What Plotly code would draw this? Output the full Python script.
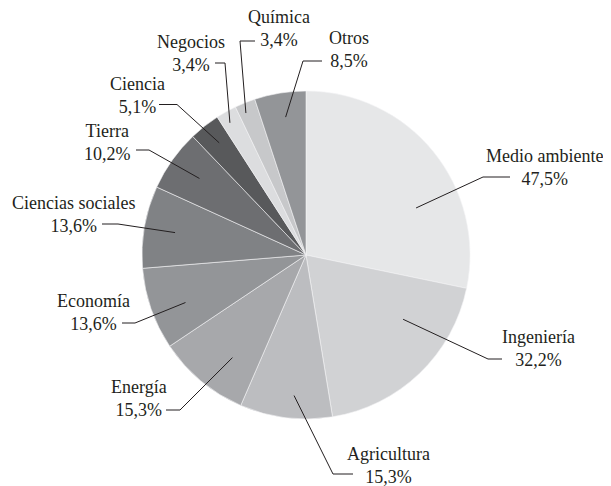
import math
import plotly.graph_objects as go

# ---- data ----
categories = ["Medio ambiente", "Ingeniería", "Agricultura", "Energía", "Economía",
              "Ciencias sociales", "Tierra", "Ciencia", "Negocios", "Química", "Otros"]
values = [47.5, 32.2, 15.3, 15.3, 13.6, 13.6, 10.2, 5.1, 3.4, 3.4, 8.5]

# ---- style ----
colors = ["#e6e7e8", "#d1d2d4", "#bcbdc0", "#a7a8ab", "#939598", "#808285",
          "#6d6e71", "#58595b", "#dcdddf", "#c7c8ca", "#939598"]
FONT = "'Liberation Serif', Tinos, 'Noto Serif', 'DejaVu Serif', FreeSerif, serif"
OFF = 8  # page body margin of the html page
W, H = 611 - OFF, 486 - OFF
CX, CY, R = 306, 255, 164  # pie centre / radius in window pixels (layout)

# label layout (window pixels): leader start radius fraction, angle tweak, elbow, line end, text centre
start_rfrac = [0.73, 0.71, 0.86, 0.77, 0.79, 0.81, 0.80, 0.865, 0.93, 0.94, 0.85]
angle_tweak = [16, -12.7, -2.2, -4.2, -2.3, -0.2, 0.3, 0.5, -0.8, -1.1, 0.7]
elbows = [(483, 177), (488, 359), (333, 474), (180, 410), (135, 323), (118, 224),
          (149, 150), (177, 104.5), (225, 63), (240, 41), (303, 61)]
line_ends = [(510, 177), (502, 359), (353, 474), (166, 410), (122, 323), (102, 224),
             (136, 150), (159, 104.5), (215, 63), (255, 41), (322, 61)]
text_pos = [(544, 167), (538, 348), (388, 465), (139, 398), (93, 312), (73, 214.5),
            (107, 142), (137, 95), (191, 53.5), (279, 29), (349, 50)]

def px(x):
    return (x - OFF) / W

def py(y):
    return 1 - (y - OFF) / H

fig = go.Figure(go.Pie(
    labels=categories,
    values=values,
    sort=False,
    direction="clockwise",
    rotation=0,
    textinfo="none",
    hoverinfo="label+value",
    marker=dict(colors=colors, line=dict(color="#f4f4f5", width=0.6)),
    domain=dict(x=[px(CX - R), px(CX + R)], y=[py(CY + R), py(CY - R)]),
    showlegend=False,
))

total = sum(values)
cum = 0.0
shapes = []
annotations = []
for i, (cat, v) in enumerate(zip(categories, values)):
    mid = (cum + v / 2) / total * 360 + angle_tweak[i]
    cum += v
    th = math.radians(mid)
    sx = CX + start_rfrac[i] * R * math.sin(th)
    sy = CY - start_rfrac[i] * R * math.cos(th)
    ex, ey = elbows[i]
    lx, ly = line_ends[i]
    path = f"M {px(sx)} {py(sy)} L {px(ex)} {py(ey)} L {px(lx)} {py(ly)}"
    shapes.append(dict(type="path", xref="paper", yref="paper", path=path,
                       line=dict(color="#231f20", width=1)))
    pct = f"{v:.1f}".replace(".", ",") + "%"
    tx, ty = text_pos[i]
    annotations.append(dict(x=px(tx), y=py(ty), xref="paper", yref="paper",
                            text=f"{cat}<br>{pct}", showarrow=False,
                            xanchor="center", yanchor="middle", align="center",
                            font=dict(family=FONT, size=18, color="#231f20")))

fig.update_layout(
    width=W, height=H,
    margin=dict(l=0, r=0, t=0, b=0),
    paper_bgcolor="white", plot_bgcolor="white",
    shapes=shapes, annotations=annotations,
    font=dict(family=FONT, size=18, color="#231f20"),
)

fig.write_html("out.html")
